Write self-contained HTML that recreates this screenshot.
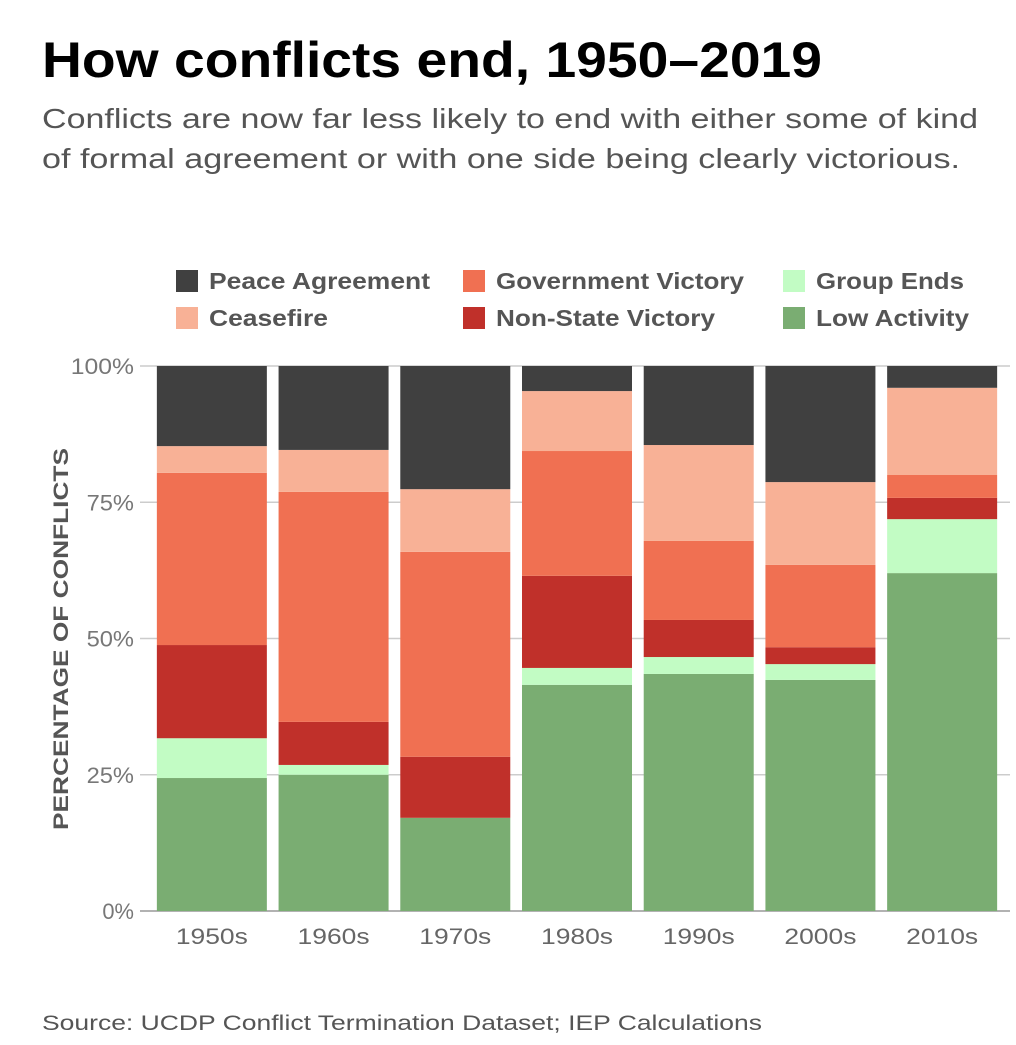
<!DOCTYPE html>
<html><head><meta charset="utf-8"><style>
body{margin:0;background:#fff;font-family:"Liberation Sans",Arial,sans-serif;}
#wrap{position:relative;width:1016px;height:1045px;overflow:hidden;}
</style></head><body>
<div id="wrap">
<svg id="svg" width="1016" height="1045">
<text x="42" y="77" font-size="50" font-weight="bold" fill="#000" textLength="780" lengthAdjust="spacingAndGlyphs">How conflicts end, 1950–2019</text>
<text x="42" y="128" font-size="28" fill="#555" textLength="936" lengthAdjust="spacingAndGlyphs">Conflicts are now far less likely to end with either some of kind</text>
<text x="42" y="168" font-size="28" fill="#555" textLength="918" lengthAdjust="spacingAndGlyphs">of formal agreement or with one side being clearly victorious.</text>
<text transform="translate(68,639) rotate(-90)" text-anchor="middle" font-size="21" font-weight="bold" fill="#555" textLength="382" lengthAdjust="spacingAndGlyphs">PERCENTAGE OF CONFLICTS</text>
<text x="42" y="1030" font-size="21" fill="#555" textLength="720" lengthAdjust="spacingAndGlyphs">Source: UCDP Conflict Termination Dataset; IEP Calculations</text>
<g id="grid"></g><g id="bars"></g><g id="axes"></g><g id="legend"></g>
</svg>
</div>
<script>
const categories=["1950s","1960s","1970s","1980s","1990s","2000s","2010s"];
const seriesNames=["Low Activity","Group Ends","Non-State Victory","Government Victory","Ceasefire","Peace Agreement"];
const lowActivity=[24.4,25.0,17.1,41.5,43.5,42.4,62.0];
const groupEnds=[7.3,1.8,0,3.1,3.1,2.9,9.9];
const nonStateVictory=[17.1,7.9,11.2,16.9,6.8,3.1,3.9];
const governmentVictory=[31.6,42.2,37.6,22.9,14.5,15.1,4.2];
const ceasefire=[4.9,7.7,11.5,11.0,17.6,15.2,16.0];
const peaceAgreement=[14.7,15.4,22.6,4.6,14.5,21.3,4.0];
const yTicks=[0,25,50,75,100];
const yTickLabels=["0%","25%","50%","75%","100%"];
const series=[lowActivity,groupEnds,nonStateVictory,governmentVictory,ceasefire,peaceAgreement];
const colors=["#7aad72","#c2fcc4","#c0302a","#f07052","#f8b196","#404040"];
const legendWidths=[153,148,219,248,119,221];
const NS="http://www.w3.org/2000/svg";
const y0=911,y1=366,xL=151,xR=1003;
const y=v=>y0-(y0-y1)*v/100;
const step=(xR-xL)/categories.length,bw=110;
const x=i=>xL+step*i+(step-bw)/2;
function mk(t,a,p){const e=document.createElementNS(NS,t);for(const k in a)e.setAttribute(k,a[k]);p.appendChild(e);return e;}
const grid=document.getElementById('grid'),bars=document.getElementById('bars'),axes=document.getElementById('axes'),leg=document.getElementById('legend');
yTicks.forEach((t,i)=>{
 const l=mk('line',{x1:140,x2:1010,y1:y(t),y2:y(t),stroke:t===0?'#999':'#ccc','stroke-width':t===0?1.5:1.5},grid);
 
 
 const tx=mk('text',{x:134,y:y(t)+8,'text-anchor':'end','font-size':22,fill:'#777',textLength:yTickLabels[i].length*15.8,lengthAdjust:'spacingAndGlyphs'},axes);
 tx.textContent=yTickLabels[i];
 
 
});
categories.forEach((c,i)=>{
 let cum=0;
 series.forEach((s,j)=>{
  const v=s[i];
  const r=mk('rect',{x:x(i),y:y(cum+v),width:bw,height:Math.max(0,y(cum)-y(cum+v)),fill:colors[j]},bars);
  
  
  cum+=v;
 });
 const t=mk('text',{x:x(i)+bw/2,y:944,'text-anchor':'middle','font-size':22,fill:'#666',textLength:72,lengthAdjust:'spacingAndGlyphs'},axes);
 t.textContent=c;
 
 
});
const legOrder=[[5,176,281],[3,463,281],[1,783,281],[4,176,318],[2,463,318],[0,783,318]];
legOrder.forEach(([j,lx,ly])=>{
 const g=mk('g',{},leg);
 
 
 mk('rect',{x:lx,y:ly-11,width:22,height:22,fill:colors[j]},g);
 const t=mk('text',{x:lx+33,y:ly+8,'font-size':23,'font-weight':'bold',fill:'#555',textLength:legendWidths[j],lengthAdjust:'spacingAndGlyphs'},g);
 t.textContent=seriesNames[j];
});
</script>
</body></html>
